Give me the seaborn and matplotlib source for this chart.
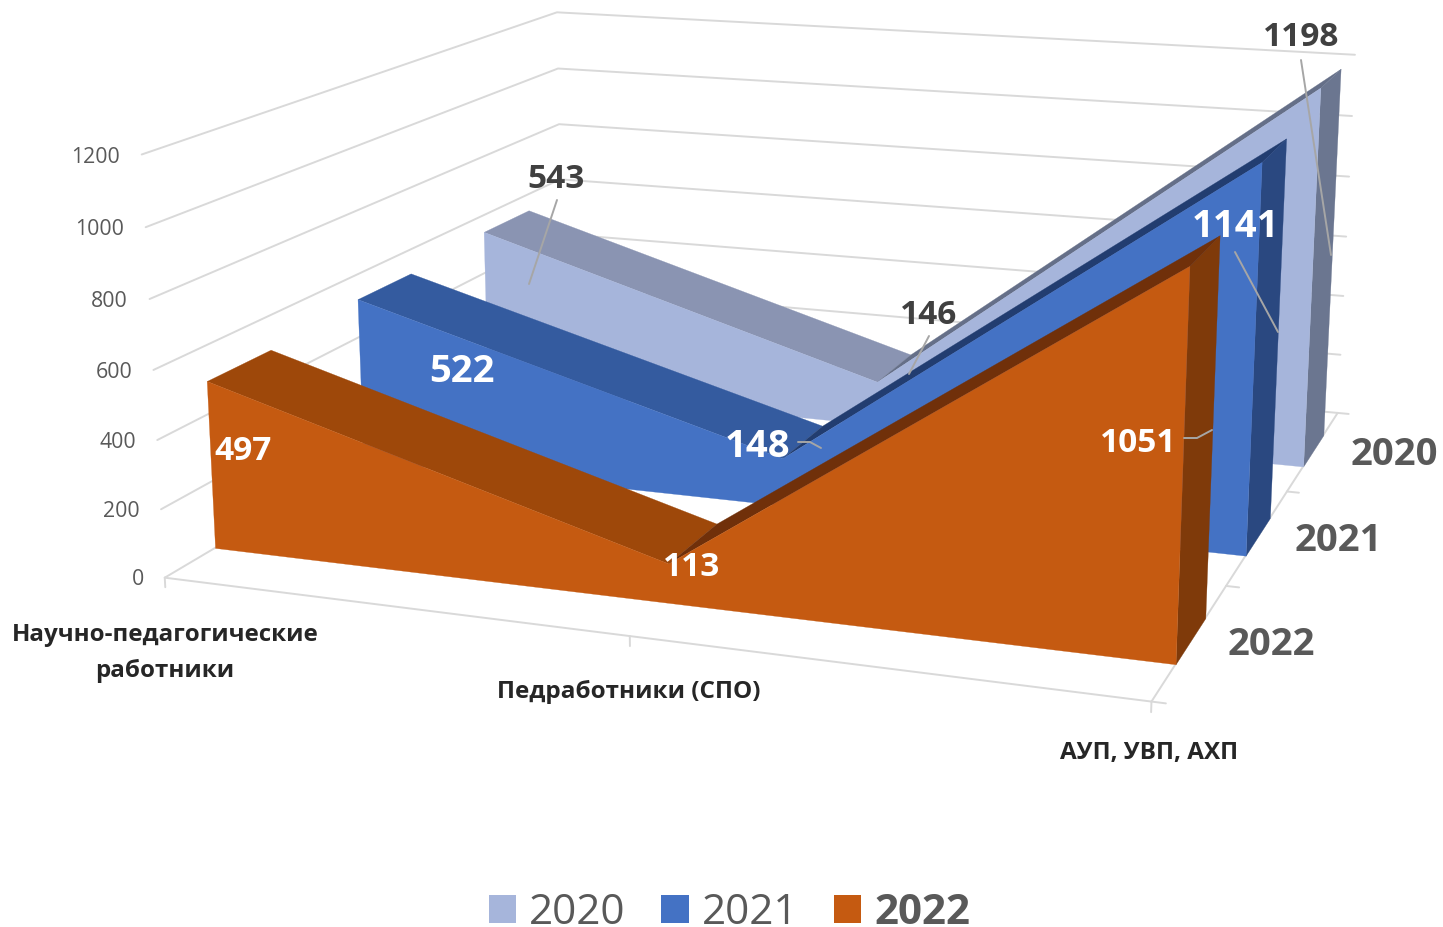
import numpy as np
import matplotlib
matplotlib.use("Agg")
import matplotlib.pyplot as plt
from matplotlib.lines import Line2D
from matplotlib.patches import Patch
from mpl_toolkits.mplot3d.art3d import Poly3DCollection
import seaborn as sns

# ---------- data ----------
categories = ["Научно-педагогические\nработники", "Педработники (СПО)", "АУП, УВП, АХП"]
years = ["2020", "2021", "2022"]
values_2020 = [543, 146, 1198]
values_2021 = [522, 148, 1141]
values_2022 = [497, 113, 1051]
value_ticks = [0, 200, 400, 600, 800, 1000, 1200]

W, H = 1443, 927
FONT = "Open Sans"
sns.set_theme(style="white")
plt.rcParams["font.family"] = [FONT, "DejaVu Sans"]

# ---------- camera calibration: axis box corners -> picture pixels ----------
calib_world = [(0, 0, 0), (0, 0, 600), (0, 0, 1200), (0.5, 0, 0), (1, 0, 0),
               (1, 1 / 3, 0), (1, 2 / 3, 0), (1, 1, 0), (1, 1, 600), (1, 1, 1200),
               (0, 1, 1200), (0, 1, 800), (0, 1, 400)]
calib_pixel = [(165, 577), (153, 369), (142, 155), (630, 637), (1150, 702),
               (1227, 586), (1288, 491), (1337, 412), (1346, 237), (1355, 55),
               (557, 12), (559, 123), (561, 236)]


def fit_camera(world, pixel):
    rows = []
    for (x, y, z), (u, v) in zip(world, pixel):
        X = [x, y, z / 1200, 1]
        u, v = u / 1000, v / 1000
        rows.append(X + [0, 0, 0, 0] + [-u * a for a in X])
        rows.append([0, 0, 0, 0] + X + [-v * a for a in X])
    P = np.linalg.svd(np.array(rows))[2][-1].reshape(3, 4)
    P = np.diag([1000, 1000, 1]) @ P @ np.diag([1, 1, 1 / 1200, 1])
    centre = np.linalg.svd(P)[2][-1]
    return np.vstack([P[0], P[1], centre, P[2]])


M = fit_camera(calib_world, calib_pixel)


def to_pixel(x, y, z):
    h = M @ np.array([x, y, z, 1.0])
    return h[0] / h[3], h[1] / h[3]


fig = plt.figure(figsize=(W / 100, H / 100), dpi=100, facecolor="white")
ax = fig.add_axes([0, 0, 1, 1], projection="3d")
ax.set_axis_off()
ax.computed_zorder = False
ax.set_proj_type("ortho")          # keeps Line3D from clipping to the unit cube
ax.get_proj = lambda: M
ax.apply_aspect = lambda position=None: None
ax.set_xlim(0, 1)
ax.set_ylim(0, 1)
ax.set_zlim(0, 1200)
ax.set_autoscale_on(False)
ax.patch.set_alpha(0)

GRID = "#D9D9D9"
grid_kw = dict(color=GRID, lw=1.4, solid_capstyle="round", zorder=1)
for z in value_ticks:
    ax.plot([0, 0, 1], [0, 1, 1], [z, z, z], **grid_kw)
    px, py = to_pixel(-0.024, 0, z)
    fig.text(px / W, 1 - (py + 4.5) / H, str(z), ha="right", va="center", fontsize=15.3, color="#595959")
ax.plot([0, 1], [0, 0], [0, 0], **grid_kw)
ax.plot([1, 1], [0, 1], [0, 0], **grid_kw)
for x in (0, 0.5, 1):
    ax.plot([x, x], [0, 0], [0, -28], **grid_kw)
for y in (0, 1 / 3, 2 / 3, 1):
    ax.plot([1, 1.013], [y, y], [0, 0], **grid_kw)

# ---------- series ----------
series = [
    (values_2020, dict(front="#A6B5DB", top_l="#8A94B2", top_r="#656F88", side="#6B7690")),
    (values_2021, dict(front="#4472C4", top_l="#345B9F", top_r="#223D70", side="#2A4880")),
    (values_2022, dict(front="#C55A11", top_l="#9E480A", top_r="#70300A", side="#7F3A0A")),
]
x_pos = [0, 0.5, 1]
depth_lo, depth_hi = 0.30, 0.70


def face(points, color, z):
    ax.add_collection3d(Poly3DCollection([points], facecolors=color, edgecolors=color,
                                         linewidths=0.2, zorder=z), autolim=False)


for k, (vals, col) in enumerate(series):
    slot = 2 - k
    y0 = (slot + depth_lo) / 3
    y1 = (slot + depth_hi) / 3
    base = 5 + k * 5
    for i, key in enumerate(("top_l", "top_r")):
        a, b = x_pos[i], x_pos[i + 1]
        face([(a, y0, vals[i]), (b, y0, vals[i + 1]), (b, y1, vals[i + 1]), (a, y1, vals[i])], col[key], base)
    face([(1, y0, 0), (1, y1, 0), (1, y1, vals[2]), (1, y0, vals[2])], col["side"], base + 1)
    front = [(x, y0, v) for x, v in zip(x_pos, vals)] + [(1, y0, 0), (0, y0, 0)]
    face(front, col["front"], base + 2)


# ---------- annotation layer, placed in picture pixels ----------
def ptext(x, y, s, size, color, weight="bold", **kw):
    fig.text(x / W, 1 - (y + 3) / H, s, fontsize=size, color=color, fontweight=weight,
             ha=kw.pop("ha", "center"), va=kw.pop("va", "center"), **kw)


def leader(xs, ys):
    fig.add_artist(Line2D([x / W for x in xs], [1 - y / H for y in ys], color="#A6A6A6", lw=1.4,
                          transform=fig.transFigure, zorder=2))


leader([1301, 1331], [60, 255])
leader([1235, 1278], [252, 332])
leader([1184, 1197, 1212], [438, 438, 430])
leader([798, 810, 821], [442, 442, 448])
leader([929, 909], [336, 374])
leader([557, 529], [200, 284])

DARK = "#404040"
ptext(1301, 35, values_2020[2], 24, DARK)
ptext(929, 312, values_2020[1], 24, DARK)
ptext(556, 176, values_2020[0], 24, DARK)
ptext(1235, 224, values_2021[2], 27.5, "white")
ptext(758, 444, values_2021[1], 27.5, "white")
ptext(462, 369, values_2021[0], 27.5, "white")
ptext(1138, 441, values_2022[2], 24, "white")
ptext(692, 564, values_2022[1], 24, "white")
ptext(243, 448, values_2022[0], 24, "white")

ptext(1394, 452, years[0], 27.5, "#595959")
ptext(1338, 538, years[1], 27.5, "#595959")
ptext(1271, 642, years[2], 27.5, "#595959")

ptext(165, 650, categories[0], 17.4, "#262626", linespacing=1.66)
ptext(629, 689, categories[1], 17.5, "#262626")
ptext(1149, 750, categories[2], 17.5, "#262626")

# ---------- legend ----------
handles = [Patch(facecolor=s[1]["front"], edgecolor="none") for s in series]
leg = fig.legend(handles, years, ncol=3, loc="center", bbox_to_anchor=(729.5 / W, 1 - 913 / H),
                 frameon=False, fontsize=30.3, handlelength=0.645, handleheight=0.645,
                 handletextpad=0.31, columnspacing=0.86, labelcolor="#595959")
leg.get_texts()[2].set_fontweight("bold")

# pin the 2D picture plane to pixels only now: ax.plot() above rescales it
ax._viewLim.set_points(np.array([[0.0, float(H)], [float(W), 0.0]]))
ax._stale_viewlims = {name: False for name in ax._stale_viewlims}

fig.savefig("out.png", dpi=100)
